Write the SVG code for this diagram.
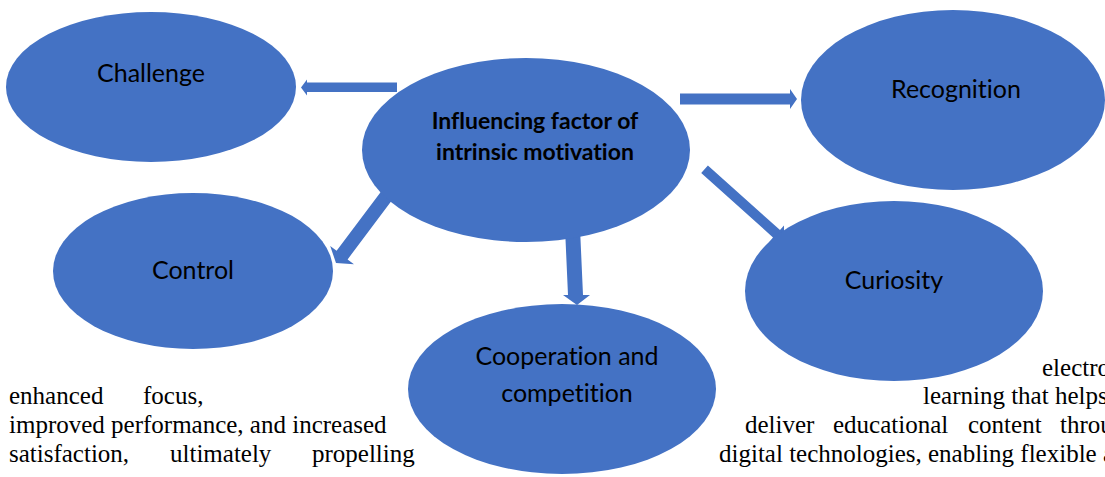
<svg xmlns="http://www.w3.org/2000/svg" width="1105" height="477" viewBox="0 0 1105 477">
  <style>
    .node { fill: #4472C4; }
    .label { font-family: Lato, "Open Sans", "Liberation Sans", sans-serif; font-size: 25px; fill: #000; text-anchor: middle; font-variant-ligatures: none; }
    .hub { font-family: Lato, "Open Sans", "Liberation Sans", sans-serif; font-size: 23px; font-weight: bold; fill: #000; text-anchor: middle; font-variant-ligatures: none; }
    .body { font-family: "Liberation Serif", "Times New Roman", serif; font-size: 25px; fill: #000; }
    .arrow { fill: #4472C4; }
  </style>
  <rect width="1105" height="477" fill="#fff"/>

  <!-- surrounding paragraph text, wrapped around the diagram -->
  <g id="body-text">
    <text class="body" x="9" y="404">enhanced</text>
    <text class="body" x="143" y="404">focus,</text>
    <text class="body" x="9" y="433">improved performance, and increased</text>
    <text class="body" x="9" y="462">satisfaction,</text>
    <text class="body" x="170" y="462">ultimately</text>
    <text class="body" x="312" y="462">propelling</text>

    <text class="body" x="1042" y="376">electro</text>
    <text class="body" x="923" y="404">learning that helps</text>
    <text class="body" x="745" y="433">deliver</text>
    <text class="body" x="833" y="433">educational</text>
    <text class="body" x="968" y="433">content</text>
    <text class="body" x="1060" y="433">throu</text>
    <text class="body" x="719" y="462">digital technologies, enabling flexible a</text>
  </g>

  <!-- block arrows from the hub to each factor -->
  <g id="connectors">
    <polygon class="arrow" points="397,82.5 307,82.5 307,79.5 301,87.5 307,95.5 307,92 397,92"/>
    <polygon class="arrow" points="680,93.5 790,93.5 790,89 797,99 790,109 790,104.5 680,104.5"/>
    <polygon class="arrow" points="389,181 400,189.5 347.6,259.4 354,264.3 336,263 330.2,245.9 336.6,250.8"/>
    <polygon class="arrow" points="565,228 580,228 583,295 590,295 577,305 563,295 568,295"/>
    <polygon class="arrow" points="707.9,165.6 701.2,173 773,237.4 769.3,241.9 784.1,240.4 784,225.5 780,230"/>
  </g>

  <g id="node-challenge">
    <ellipse class="node" cx="151" cy="87" rx="145" ry="75"/>
    <text class="label" x="151" y="82">Challenge</text>
  </g>

  <g id="node-recognition">
    <ellipse class="node" cx="953" cy="100" rx="152" ry="90"/>
    <text class="label" x="956" y="98">Recognition</text>
  </g>

  <g id="node-control">
    <ellipse class="node" cx="193" cy="271" rx="140" ry="78"/>
    <text class="label" x="193" y="279">Control</text>
  </g>

  <g id="node-curiosity">
    <ellipse class="node" cx="894" cy="291" rx="149" ry="90"/>
    <text class="label" x="894" y="289">Curiosity</text>
  </g>

  <g id="node-cooperation">
    <ellipse class="node" cx="562" cy="389" rx="154" ry="85"/>
    <text class="label" x="567" y="365">Cooperation and</text>
    <text class="label" x="567" y="402">competition</text>
  </g>

  <g id="node-hub">
    <ellipse class="node" cx="526" cy="150" rx="164" ry="92"/>
    <text class="hub" x="535" y="129">Influencing factor of</text>
    <text class="hub" x="535" y="160">intrinsic motivation</text>
  </g>
</svg>
